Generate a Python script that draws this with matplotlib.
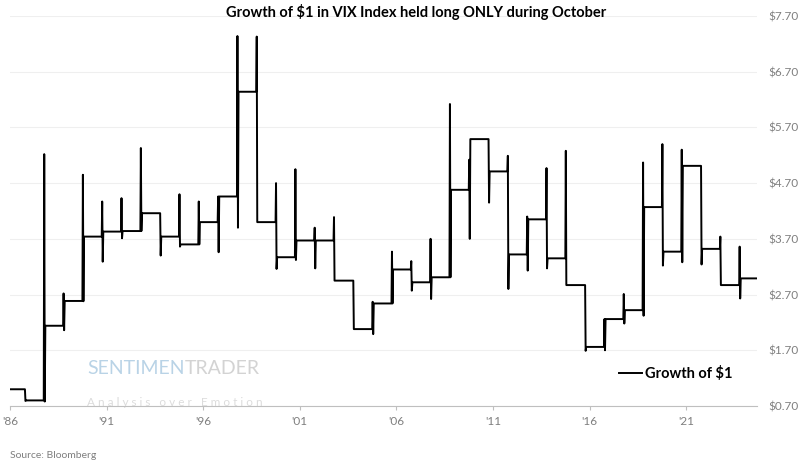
import matplotlib
matplotlib.use("Agg")
import matplotlib.pyplot as plt
import pandas as pd

# October of each year: high, low and closing value of the $1 during the month
years = list(range(1986, 2024))
oct_high = [1.00, 5.22, 2.72, 4.85, 4.37, 4.43, 5.33, 4.16, 4.50, 4.37,
            4.46, 7.34, 7.33, 4.70, 4.95, 3.90, 4.09, 2.95, 2.57, 3.47,
            3.30, 3.70, 6.12, 5.12, 5.49, 5.19, 4.10, 4.97, 5.28, 2.87,
            2.26, 2.71, 5.07, 5.40, 5.30, 5.01, 3.74, 3.56]
oct_low = [0.79, 0.78, 2.06, 2.58, 3.29, 3.71, 3.84, 3.40, 3.56, 3.60,
           3.46, 3.90, 4.00, 3.16, 3.32, 3.17, 2.95, 2.08, 1.99, 2.54,
           2.77, 2.62, 3.01, 3.70, 4.35, 2.80, 3.13, 3.17, 2.87, 1.69,
           1.70, 2.18, 2.32, 3.22, 3.28, 3.24, 2.87, 2.63]
oct_end = [0.80, 2.14, 2.585, 3.74, 3.83, 3.84, 4.16, 3.74, 3.60, 4.00,
           4.46, 6.34, 4.00, 3.37, 3.67, 3.67, 2.95, 2.08, 2.54, 3.15,
           2.92, 3.01, 4.58, 5.49, 4.91, 3.42, 4.05, 3.35, 2.87, 1.76,
           2.26, 2.42, 4.27, 3.47, 5.01, 3.52, 2.87, 2.99]
start_date = "1986-01-02"
end_date = "2024-09-01"
tick_years = [1986, 1991, 1996, 2001, 2006, 2011, 2016, 2021]
y_ticks = [0.70, 1.70, 2.70, 3.70, 4.70, 5.70, 6.70, 7.70]

# build the series: flat between Octobers, moving inside October
dates = [pd.Timestamp(start_date)]
vals = [1.0]
for y, hi, lo, end in zip(years, oct_high, oct_low, oct_end):
    prev = vals[-1]
    dates += [pd.Timestamp(y, 10, 1), pd.Timestamp(y, 10, 10),
              pd.Timestamp(y, 10, 20), pd.Timestamp(y, 10, 31)]
    vals += [prev, hi, lo, end]
dates.append(pd.Timestamp(end_date))
vals.append(vals[-1])

plt.rcParams['font.family'] = ['Lato', 'DejaVu Sans']

fig = plt.figure(figsize=(8.01, 4.66), dpi=100)
ax = fig.add_axes([0.0125, 0.1288, 0.9325, 0.8369])

ax.plot(dates, vals, color='black', lw=1.4, label='Growth of $1')

ax.set_xlim(pd.Timestamp("1986-01-01"), pd.Timestamp(end_date))
ax.set_ylim(0.70, 7.70)
ax.set_xticks([pd.Timestamp(y, 1, 1) for y in tick_years])
ax.set_xticklabels(["'" + str(y)[2:] for y in tick_years])
ax.set_yticks(y_ticks)
ax.set_yticklabels(["$%.2f" % v for v in y_ticks])
ax.yaxis.tick_right()
ax.tick_params(axis='y', length=0, pad=8, labelsize=8.5, labelcolor='#7f7f7f')
ax.tick_params(axis='x', length=3, color='#bfbfbf', pad=4, labelsize=8.5,
               labelcolor='#7f7f7f')
ax.grid(axis='y', color='#efefef', lw=0.8)
ax.set_axisbelow(True)
for s in ['top', 'left', 'right']:
    ax.spines[s].set_visible(False)
ax.spines['bottom'].set_color('#bfbfbf')

leg = ax.legend(loc='lower right', bbox_to_anchor=(0.985, 0.03), frameon=False,
                handlelength=1.6, handletextpad=0.2, fontsize=10.5)
for t in leg.get_texts():
    t.set_fontweight('bold')

# watermark
wm = ax.text(0.103, 0.075, "SENTIMEN", transform=ax.transAxes, fontsize=14,
             color='#b9d3e6', ha='left', va='bottom', zorder=0)
ax.annotate("TRADER", xy=(1, 0), xycoords=wm, fontsize=14, color='#d3d3d3',
            ha='left', va='bottom', zorder=0)
ax.text(0.103, -0.005, "A n a l y s i s   o v e r   E m o t i o n",
        transform=ax.transAxes, fontsize=8.5, color='#dcdcdc', ha='left',
        va='bottom', zorder=0)

fig.text(0.52, 0.974, "Growth of $1 in VIX Index held long ONLY during October",
         ha='center', va='center', fontsize=10.5, fontweight='bold')
fig.text(0.012, 0.022, "Source: Bloomberg", ha='left', va='center',
         fontsize=7.5, color='#7f7f7f')

fig.savefig("out.png", dpi=100)
